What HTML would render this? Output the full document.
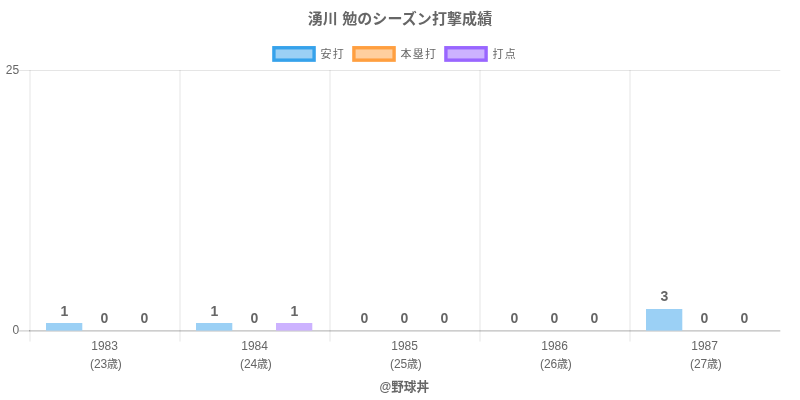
<!DOCTYPE html>
<html lang="ja"><head><meta charset="utf-8"><title>湧川 勉のシーズン打撃成績</title>
<style>
html,body{margin:0;padding:0;background:#fff;}
body{width:800px;height:400px;position:relative;overflow:hidden;font-family:"Liberation Sans","Noto Sans CJK JP",sans-serif;color:#666;font-size:12px;}
svg{position:absolute;left:0;top:0;}
.t{position:absolute;white-space:nowrap;line-height:1;transform:translate(-50%,-50%);}
.r{position:absolute;white-space:nowrap;line-height:1;transform:translate(-100%,-50%);}
.l{position:absolute;white-space:nowrap;line-height:1;transform:translate(0,-50%);}
.b{font-weight:bold;}
.n{letter-spacing:-0.15px;}
.k{font-size:11px;letter-spacing:1.2px;}
.n span{font-size:11px;}
.d{position:absolute;white-space:nowrap;line-height:1;transform:translate(-50%,-50%);font-weight:bold;font-size:14px;}
</style></head><body>

<svg width="800" height="400" viewBox="0 0 800 400">
<line x1="30" y1="70" x2="30" y2="341.6" stroke="rgba(0,0,0,0.1)" stroke-width="1"/>
<line x1="180" y1="70" x2="180" y2="341.6" stroke="rgba(0,0,0,0.1)" stroke-width="1"/>
<line x1="330" y1="70" x2="330" y2="341.6" stroke="rgba(0,0,0,0.1)" stroke-width="1"/>
<line x1="480" y1="70" x2="480" y2="341.6" stroke="rgba(0,0,0,0.1)" stroke-width="1"/>
<line x1="630" y1="70" x2="630" y2="341.6" stroke="rgba(0,0,0,0.1)" stroke-width="1"/>
<line x1="19.2" y1="70.5" x2="780.3" y2="70.5" stroke="rgba(0,0,0,0.1)" stroke-width="1"/>
<line x1="19.2" y1="330.9" x2="30" y2="330.9" stroke="rgba(0,0,0,0.2)" stroke-width="1.2"/>
<line x1="30" y1="330.9" x2="780.3" y2="330.9" stroke="rgba(0,0,0,0.26)" stroke-width="1.2"/>
<rect x="273.9" y="47.75" width="40.2" height="12.4" fill="rgb(155,208,245)" stroke="rgb(54,162,235)" stroke-width="3.4"/>
<rect x="353.9" y="47.75" width="40.2" height="12.4" fill="rgb(255,207,159)" stroke="rgb(255,159,64)" stroke-width="3.4"/>
<rect x="445.9" y="47.75" width="40.2" height="12.4" fill="rgb(204,178,255)" stroke="rgb(153,102,255)" stroke-width="3.4"/>
<rect x="46" y="323" width="36.3" height="7.6" fill="rgb(155,208,245)"/>
<rect x="196" y="323" width="36.3" height="7.6" fill="rgb(155,208,245)"/>
<rect x="276" y="323" width="36.3" height="7.6" fill="rgb(204,178,255)"/>
<rect x="646" y="309" width="36.3" height="21.6" fill="rgb(155,208,245)"/>
<rect x="29" y="330.3" width="1" height="1" fill="rgba(0,0,0,0.3)"/>
</svg>
<div class="t b" style="left:400px;top:17.8px;font-size:15px;letter-spacing:0.08px;">湧川 勉のシーズン打撃成績</div>
<div class="l k" style="left:320.5px;top:53.7px;">安打</div>
<div class="l k" style="left:400.5px;top:53.7px;">本塁打</div>
<div class="l k" style="left:492.5px;top:53.7px;">打点</div>
<div class="r" style="left:19.6px;top:70px;letter-spacing:0.3px;">25</div>
<div class="r" style="left:19.3px;top:329.6px;">0</div>
<div class="t" style="left:104.6px;top:346.2px;">1983</div>
<div class="t n" style="left:105.9px;top:363.9px;">(23<span>歳</span>)</div>
<div class="d" style="left:64.4px;top:311.2px;">1</div>
<div class="d" style="left:104.4px;top:318px;">0</div>
<div class="d" style="left:144.4px;top:318px;">0</div>
<div class="t" style="left:254.6px;top:346.2px;">1984</div>
<div class="t n" style="left:255.9px;top:363.9px;">(24<span>歳</span>)</div>
<div class="d" style="left:214.4px;top:311.2px;">1</div>
<div class="d" style="left:254.4px;top:318px;">0</div>
<div class="d" style="left:294.4px;top:311.2px;">1</div>
<div class="t" style="left:404.6px;top:346.2px;">1985</div>
<div class="t n" style="left:405.9px;top:363.9px;">(25<span>歳</span>)</div>
<div class="d" style="left:364.4px;top:318px;">0</div>
<div class="d" style="left:404.4px;top:318px;">0</div>
<div class="d" style="left:444.4px;top:318px;">0</div>
<div class="t" style="left:554.6px;top:346.2px;">1986</div>
<div class="t n" style="left:555.9px;top:363.9px;">(26<span>歳</span>)</div>
<div class="d" style="left:514.4px;top:318px;">0</div>
<div class="d" style="left:554.4px;top:318px;">0</div>
<div class="d" style="left:594.4px;top:318px;">0</div>
<div class="t" style="left:704.6px;top:346.2px;">1987</div>
<div class="t n" style="left:705.9px;top:363.9px;">(27<span>歳</span>)</div>
<div class="d" style="left:664.4px;top:296.4px;">3</div>
<div class="d" style="left:704.4px;top:318px;">0</div>
<div class="d" style="left:744.4px;top:318px;">0</div>
<div class="t b" style="left:404.3px;top:387.1px;font-size:12.6px;"><span style="font-size:12px">@</span>野球丼</div>
</body></html>
